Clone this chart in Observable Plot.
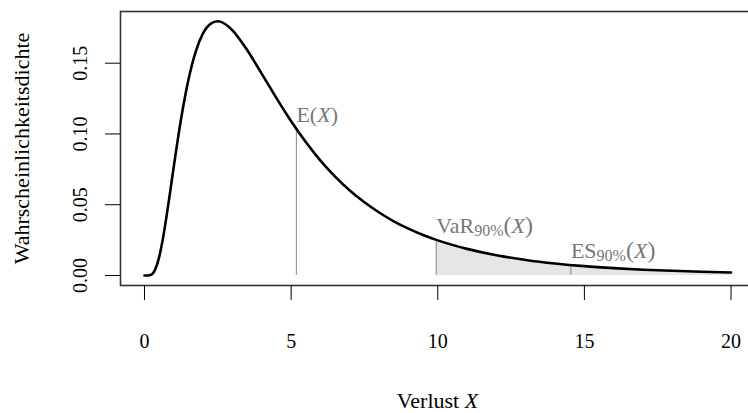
<!DOCTYPE html>
<html><head><meta charset="utf-8">
<script src="https://cdn.jsdelivr.net/npm/d3@7"></script>
<script src="https://cdn.jsdelivr.net/npm/@observablehq/plot@0.6"></script>
<style>
html,body{margin:0;padding:0;background:#fff;overflow:hidden;width:748px;height:413px}
#chart svg{max-width:none!important}
</style></head><body><div id="chart"></div>
<script>
// Density curve (Verlust X vs. Wahrscheinlichkeitsdichte)
const xs = [0,0.1,0.25,0.375,0.5,0.625,0.75,0.875,1,1.25,1.5,1.75,2,2.25,2.5,2.75,3,3.5,4,4.5,5,5.5,6,6.5,7,7.5,8,8.5,9,9.5,10,11,12,13,14,15,16,17,18,19,20];
const dens = [0,0,0.0008,0.0047,0.0130,0.0257,0.0416,0.0591,0.0771,0.1110,0.1385,0.1584,0.1712,0.1778,0.1796,0.1777,0.1732,0.1593,0.1425,0.1253,0.1090,0.0943,0.0812,0.0699,0.0601,0.0517,0.0445,0.0383,0.0331,0.0286,0.0248,0.0188,0.0143,0.0110,0.0085,0.0066,0.0052,0.0041,0.0033,0.0026,0.0021];

// Annotated quantities
const markNames = ["E","VaR","ES"];
const markSubs = ["","90%","90%"];
const markX = [5.18, 9.95, 14.54];
const markY = [0.1035, 0.0249, 0.0074];

// Axis ticks and titles
const xTicks = [0,5,10,15,20];
const yTicks = [0,0.05,0.10,0.15];
const xTitle = "Verlust X";
const yTitle = "Wahrscheinlichkeitsdichte";

const rows = xs.map((x,i)=>({x, y: dens[i]}));
const marks = markNames.map((n,i)=>({name:n, sub:markSubs[i], x:markX[i], y:markY[i]}));
const tail = [{x: markX[1], y: markY[1]}, ...rows.filter(r=>r.x>markX[1])];
const font = '"Liberation Serif","Times New Roman",serif';

const chart = Plot.plot({
  width: 760, height: 413,
  marginLeft: 120, marginRight: 6, marginTop: 11, marginBottom: 128,
  x: {domain: [-0.818, 20.8]},
  y: {domain: [-0.00707, 0.18652]},
  style: {fontFamily: font, fontSize: "20px", background: "white", color: "black"},
  marks: [
    Plot.areaY(tail, {x:"x", y:"y", fill:"#e5e5e5", curve:"monotone-x"}),
    Plot.ruleX(marks, {x:"x", y1: 0, y2:"y", stroke:"#999", strokeWidth:1.2}),
    Plot.line(rows, {x:"x", y:"y", stroke:"black", strokeWidth:2.6, curve:"monotone-x"}),
    Plot.text(marks, {x:"x", y:"y", text: d => d.name + d.sub + "(X)", textAnchor:"start", lineAnchor:"bottom", dy:-7, fill:"#777", fontSize:22}),
    Plot.frame({stroke:"#333", strokeWidth:1.6}),
    Plot.axisX({ticks:xTicks, tickSize:15, tickPadding:33, tickFormat: d=>String(d), label:null, fontSize:20}),
    Plot.axisY({ticks:yTicks, tickSize:15, tickFormat: ()=>"", label:null}),
    Plot.text(yTicks, {y: d=>d, text: d=>d3.format(".2f")(d), frameAnchor:"left", rotate:-90, dx:-34, textAnchor:"middle", lineAnchor:"bottom", fontSize:20}),
    Plot.text([yTitle], {frameAnchor:"left", rotate:-90, dx:-92, textAnchor:"middle", lineAnchor:"bottom", fontSize:22}),
    Plot.text([xTitle], {frameAnchor:"bottom", dy:122, textAnchor:"middle", lineAnchor:"bottom", fontSize:22})
  ]
});
chart.style.maxWidth = "none";
document.getElementById("chart").appendChild(chart);

const ns = "http://www.w3.org/2000/svg";
function add(t, s, attrs) {
  const ts = document.createElementNS(ns, "tspan");
  ts.textContent = s;
  for (const k in (attrs||{})) ts.setAttribute(k, attrs[k]);
  t.appendChild(ts);
}
chart.querySelectorAll("text").forEach(t => {
  const s = t.textContent;
  const m = marks.find(d => d.name + d.sub + "(X)" === s);
  if (m) {
    t.textContent = "";
    add(t, m.name);
    if (m.sub) {
      add(t, m.sub, {"font-size": "16", dy: "3"});
      add(t, "(", {dy: "-3", "font-size": "24"});
      add(t, "X", {"font-style": "italic"});
      add(t, ")", {"font-size": "24"});
    } else {
      add(t, "(");
      add(t, "X", {"font-style": "italic"});
      add(t, ")");
    }
  } else if (s === xTitle) {
    const parts = xTitle.split(" ");
    t.textContent = "";
    add(t, parts[0] + " ");
    add(t, parts[1], {"font-style": "italic"});
  }
});
</script>
</body></html>
